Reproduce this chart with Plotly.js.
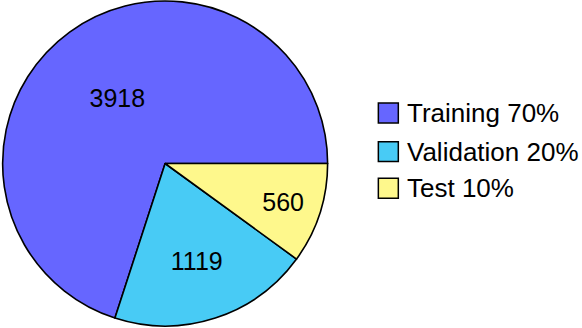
<!DOCTYPE html>
<html>
<head>
<meta charset="utf-8">
<script src="https://cdn.plot.ly/plotly-3.0.1.min.js"></script>
<style>html,body{margin:0;padding:0;background:#fff;}#chart{width:582px;height:328px;}</style>
</head>
<body>
<div id="chart"></div>
<script>
const labels = ["Training", "Validation", "Test"];
const counts = [3918, 1119, 560];
const percents = ["70%", "20%", "10%"];
const colors = ["#6666ff", "#48cbf5", "#fef88c"];

const FONT = "Liberation Sans, Arial, Helvetica, sans-serif";

const trace = {
  type: "pie",
  labels: labels,
  values: counts,
  text: counts.map(String),
  textinfo: "text",
  textposition: "inside",
  insidetextorientation: "horizontal",
  textfont: {family: FONT, size: 25, color: "#000"},
  sort: false,
  direction: "counterclockwise",
  rotation: 198,
  marker: {colors: colors, line: {color: "#000", width: 1.6}},
  domain: {x: [0, 0.565], y: [0, 1]},
  showlegend: false,
  hoverinfo: "none"
};

const shapes = [];
const annotations = [];
const legX0 = 378 / 582, legX1 = 398 / 582;
const rowY = [113, 152, 189];
labels.forEach((lab, i) => {
  const yc = 1 - rowY[i] / 328;
  const h = 10 / 328;
  shapes.push({type: "rect", xref: "paper", yref: "paper",
    x0: legX0, x1: legX1, y0: yc - h, y1: yc + h,
    fillcolor: colors[i], line: {color: "#000", width: 1.5}});
  annotations.push({xref: "paper", yref: "paper", x: 405 / 582, y: yc,
    xanchor: "left", yanchor: "middle", showarrow: false,
    text: lab + " " + percents[i],
    font: {family: FONT, size: 26, color: "#000"}});
});

const layout = {
  width: 582, height: 328,
  margin: {l: 1, r: 0, t: 1, b: 2},
  paper_bgcolor: "#fff",
  showlegend: false,
  shapes: shapes,
  annotations: annotations
};

Plotly.newPlot("chart", [trace], layout, {displayModeBar: false, staticPlot: true});
</script>
</body>
</html>
